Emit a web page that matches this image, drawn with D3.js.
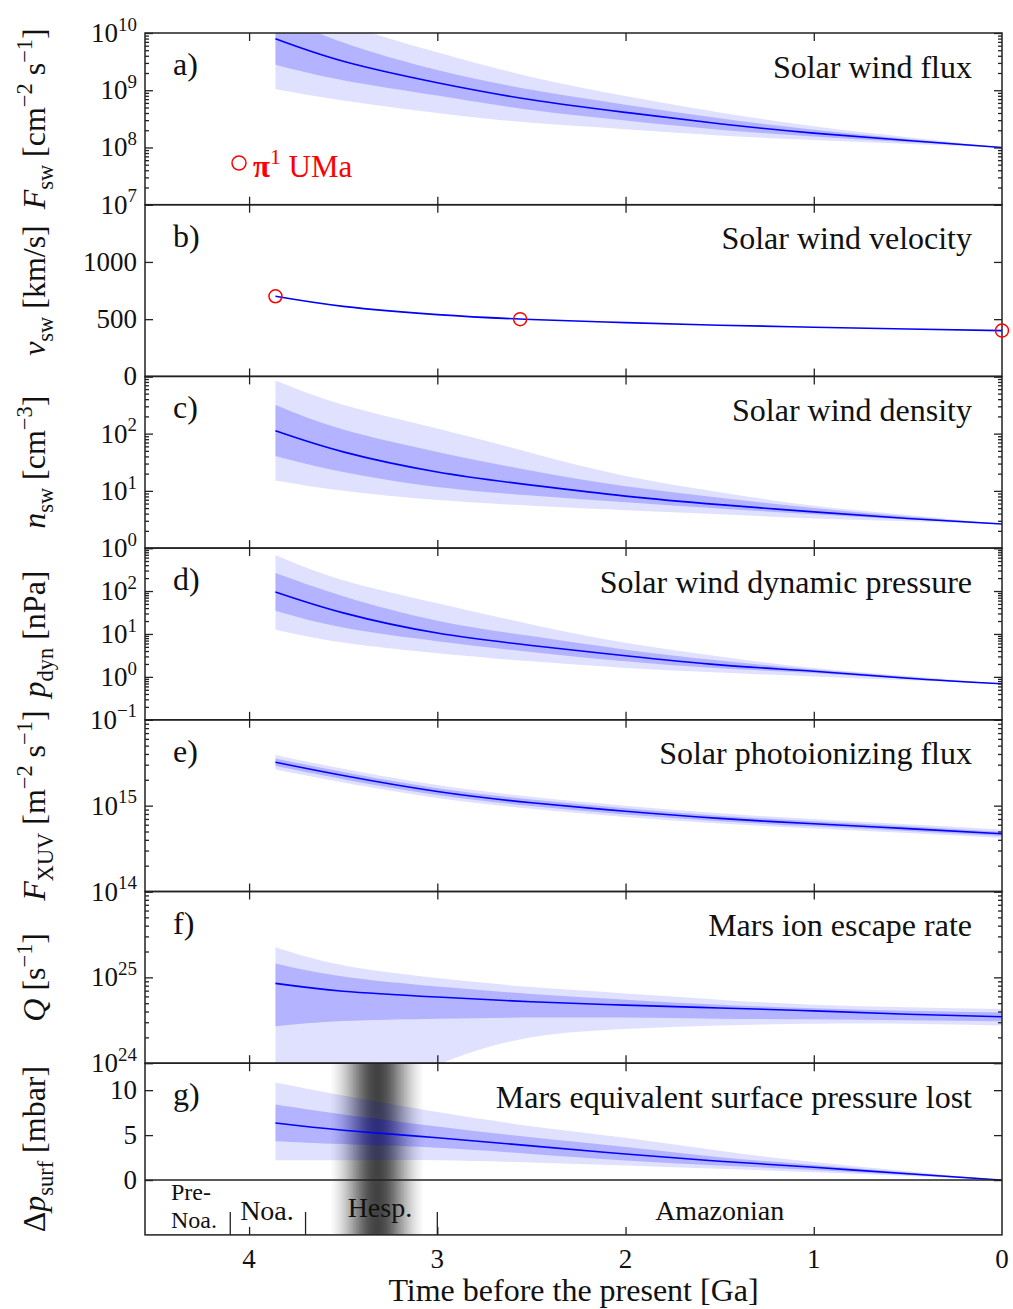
<!DOCTYPE html>
<html><head><meta charset="utf-8">
<script src="https://cdn.jsdelivr.net/npm/d3@7"></script>
<style>
body{margin:0;background:#fff}
svg{display:block}
text{font-family:'Liberation Serif','DejaVu Serif',serif;fill:#111;white-space:pre}
</style>
</head><body>
<svg id="chart" width="1013" height="1309" font-family="'Liberation Serif','DejaVu Serif',serif"></svg>
<script>
// ---------------- DATA ----------------
const T = [3.86, 3.5, 3.0, 2.5, 2.0, 1.5, 1.0, 0.5, 0.0];   // Ga before present

// a) solar wind flux [cm^-2 s^-1]
const fluxMid   = [7.9e9, 3.2e9, 1.35e9, 6.8e8, 4.1e8, 2.6e8, 1.78e8, 1.32e8, 1.0e8];
const fluxInLo  = [2.8e9, 1.5e9, 8.1e8, 4.5e8, 2.95e8, 2.04e8, 1.55e8, 1.23e8, 1.0e8];
const fluxInHi  = [2.2e10, 6.8e9, 2.25e9, 1.02e9, 5.6e8, 3.24e8, 2.04e8, 1.41e8, 1.0e8];
const fluxOutLo = [1.05e9, 6.6e8, 4.0e8, 2.7e8, 2.09e8, 1.62e8, 1.35e8, 1.15e8, 1.0e8];
const fluxOutHi = [6.0e10, 1.5e10, 4.6e9, 1.7e9, 7.9e8, 4.1e8, 2.34e8, 1.51e8, 1.0e8];

// b) solar wind velocity [km/s]
const velMid = [700, 612, 540, 497, 470, 447, 430, 414, 400];
const velSampleT = [3.86, 2.56, 0.0];
const velSample  = [700, 500, 400];

// c) solar wind density [cm^-3]
const densMid   = [112, 48, 21.4, 12.6, 8.1, 5.75, 4.3, 3.3, 2.63];
const densInLo  = [40.7, 21.4, 11.7, 8.3, 6.3, 4.9, 3.9, 3.16, 2.63];
const densInHi  = [316, 118, 48, 22.4, 12.0, 7.6, 5.0, 3.55, 2.63];
const densOutLo = [15.1, 10.0, 6.9, 5.5, 4.6, 3.9, 3.3, 2.95, 2.63];
const densOutHi = [850, 320, 123, 46, 18.2, 9.5, 5.5, 3.8, 2.63];

// d) solar wind dynamic pressure [nPa]
const presMid   = [95, 31, 10.5, 5.4, 3.1, 1.9, 1.35, 0.93, 0.69];
const presInLo  = [34.7, 14.1, 6.8, 3.8, 2.3, 1.58, 1.23, 0.89, 0.69];
const presInHi  = [263, 76, 20.4, 8.9, 4.3, 2.4, 1.48, 1.0, 0.69];
const presOutLo = [12.6, 6.3, 3.55, 2.3, 1.62, 1.26, 1.02, 0.83, 0.69];
const presOutHi = [690, 178, 52, 16.6, 6.2, 3.0, 1.62, 1.05, 0.69];

// e) solar photoionizing flux [m^-2 s^-1]
const xuvMid   = [3.2e15, 2.24e15, 1.46e15, 1.08e15, 8.6e14, 7.1e14, 6.15e14, 5.4e14, 4.7e14];
const xuvInLo  = [2.89e15, 2.03e15, 1.33e15, 9.9e14, 7.9e14, 6.6e14, 5.74e14, 5.08e14, 4.44e14];
const xuvInHi  = [3.55e15, 2.47e15, 1.60e15, 1.18e15, 9.3e14, 7.64e14, 6.59e14, 5.75e14, 4.98e14];
const xuvOutLo = [2.63e15, 1.86e15, 1.23e15, 9.2e14, 7.4e14, 6.18e14, 5.42e14, 4.81e14, 4.19e14];
const xuvOutHi = [3.89e15, 2.69e15, 1.74e15, 1.27e15, 1.0e15, 8.15e14, 6.98e14, 6.06e14, 5.27e14];

// f) Mars ion escape rate [s^-1]
const qMid   = [8.5e24, 6.9e24, 5.9e24, 5.2e24, 4.75e24, 4.4e24, 4.07e24, 3.72e24, 3.47e24];
const qInLo  = [2.7e24, 3.1e24, 3.3e24, 3.4e24, 3.4e24, 3.3e24, 3.24e24, 3.16e24, 3.09e24];
const qInHi  = [1.45e25, 1.02e25, 7.8e24, 6.4e24, 5.5e24, 4.8e24, 4.37e24, 4.07e24, 3.89e24];
const qOutLo = [6.3e22, 2.5e23, 9.5e23, 2.0e24, 2.5e24, 2.75e24, 2.88e24, 2.88e24, 2.75e24];
const qOutHi = [2.24e25, 1.38e25, 9.8e24, 7.7e24, 6.5e24, 5.5e24, 4.8e24, 4.47e24, 4.27e24];

// g) Mars equivalent surface pressure lost [mbar]
const dpMid   = [6.35, 5.55, 4.70, 3.80, 2.90, 2.10, 1.42, 0.70, 0];
const dpInLo  = [4.33, 4.00, 3.59, 2.90, 2.18, 1.62, 1.13, 0.57, 0];
const dpInHi  = [8.40, 7.30, 5.97, 4.75, 3.67, 2.55, 1.68, 0.83, 0];
const dpOutLo = [2.20, 2.20, 2.20, 1.95, 1.62, 1.25, 0.88, 0.45, 0];
const dpOutHi = [10.85, 9.40, 7.57, 6.00, 4.70, 3.25, 2.00, 0.98, 0];

// tick labels
const fluxTickExp = [7, 8, 9, 10];
const velTicks    = [0, 500, 1000];
const densTickExp = [0, 1, 2];
const presTickExp = [-1, 0, 1, 2];
const xuvTickExp  = [14, 15];
const qTickExp    = [24, 25];
const dpTicks     = [0, 5, 10];
const timeTicks   = [4, 3, 2, 1, 0];

// Mars epochs
const eraBounds = [4.1, 3.7, 3.0];
const eraNames  = ['Pre-Noa.', 'Noa.', 'Hesp.', 'Amazonian'];
const hespBand  = [3.57, 3.07];

// ---------------- DRAWING ----------------
const svg = d3.select('#chart');
const defs = svg.append('defs');
const L = 145, R = 1002, TOP = 33, PH = 171.7;
const INK = '#222';
const FONT = "'Liberation Serif','DejaVu Serif',serif";
const x = d3.scaleLinear().domain([4.553, 0]).range([L, R]);
const CURVE = d3.curveNatural;

function rich(sel, parts, size) {
  let cur = 0;
  sel.attr('font-family', FONT);
  parts.forEach(([str, o = {}]) => {
    const target = o.sub ? 0.26 * size : o.sup ? -0.42 * size : 0;
    const ts = sel.append('tspan').text(str).attr('dy', target - cur)
      .style('font-size', ((o.sub || o.sup) ? 0.7 * size : size) + 'px');
    if (o.i) ts.style('font-style', 'italic');
    if (o.b) ts.style('font-weight', 'bold');
    cur = target;
  });
}
const expStr = k => k < 0 ? '\u2212' + (-k) : String(k);

const panels = [
  {letter:'a)', title:'Solar wind flux', type:'log', domain:[1e7, 1e10],
   labels: fluxTickExp.map(k => ({v: Math.pow(10, k), parts:[['10'], [expStr(k), {sup:1}]]})),
   ylabel:[['F',{i:1}],['sw',{sub:1}],[' [cm'],['\u22122',{sup:1}],[' s'],['\u22121',{sup:1}],[']']],
   mid:fluxMid, inLo:fluxInLo, inHi:fluxInHi, outLo:fluxOutLo, outHi:fluxOutHi},
  {letter:'b)', title:'Solar wind velocity', type:'lin', domain:[0, 1500], major:[0, 500, 1000, 1500],
   labels: velTicks.map(v => ({v, parts:[[String(v)]]})),
   ylabel:[['v',{i:1}],['sw',{sub:1}],[' [km/s]']],
   mid:velMid},
  {letter:'c)', title:'Solar wind density', type:'log', domain:[1, 1e3],
   labels: densTickExp.map(k => ({v: Math.pow(10, k), parts:[['10'], [expStr(k), {sup:1}]]})),
   ylabel:[['n',{i:1}],['sw',{sub:1}],[' [cm'],['\u22123',{sup:1}],[']']],
   mid:densMid, inLo:densInLo, inHi:densInHi, outLo:densOutLo, outHi:densOutHi},
  {letter:'d)', title:'Solar wind dynamic pressure', type:'log', domain:[0.1, 1e3],
   labels: presTickExp.map(k => ({v: Math.pow(10, k), parts:[['10'], [expStr(k), {sup:1}]]})),
   ylabel:[['p',{i:1}],['dyn',{sub:1}],[' [nPa]']],
   mid:presMid, inLo:presInLo, inHi:presInHi, outLo:presOutLo, outHi:presOutHi},
  {letter:'e)', title:'Solar photoionizing flux', type:'log', domain:[1e14, 1e16],
   labels: xuvTickExp.map(k => ({v: Math.pow(10, k), parts:[['10'], [expStr(k), {sup:1}]]})),
   ylabel:[['F',{i:1}],['XUV',{sub:1}],[' [m'],['\u22122',{sup:1}],[' s'],['\u22121',{sup:1}],[']']],
   mid:xuvMid, inLo:xuvInLo, inHi:xuvInHi, outLo:xuvOutLo, outHi:xuvOutHi},
  {letter:'f)', title:'Mars ion escape rate', type:'log', domain:[1e24, 1e26],
   labels: qTickExp.map(k => ({v: Math.pow(10, k), parts:[['10'], [expStr(k), {sup:1}]]})),
   ylabel:[['Q',{i:1}],[' [s'],['\u22121',{sup:1}],[']']],
   mid:qMid, inLo:qInLo, inHi:qInHi, outLo:qOutLo, outHi:qOutHi},
  {letter:'g)', title:'Mars equivalent surface pressure lost', type:'lin', domain:[-6.1, 13], major:[0, 5, 10],
   labels: dpTicks.map(v => ({v, parts:[[String(v)]]})),
   ylabel:[['\u0394'],['p',{i:1}],['surf',{sub:1}],[' [mbar]']],
   mid:dpMid, inLo:dpInLo, inHi:dpInHi, outLo:dpOutLo, outHi:dpOutHi}
];

// gray gradient for the Hesperian band (fades fully to white at the edges)
const grad = defs.append('linearGradient').attr('id', 'hespGrad')
  .attr('x1', 0).attr('x2', 1).attr('y1', 0).attr('y2', 0);
const SIG = 22, HALF = 46.5;
const e0 = Math.exp(-0.5 * (HALF / SIG) ** 2);
d3.range(0, 1.0001, 0.04).forEach(o => {
  const d = (o - 0.5) * 2 * HALF;
  const v = Math.max(0, (Math.exp(-0.5 * (d / SIG) ** 2) - e0) / (1 - e0));
  grad.append('stop').attr('offset', o).attr('stop-color', '#000').attr('stop-opacity', 0.74 * v);
});

function yTicks(g, y, vals, len) {
  [[d3.axisLeft, L], [d3.axisRight, R]].forEach(([ax, px]) => {
    g.append('g').attr('transform', `translate(${px},0)`).attr('color', INK)
      .call(ax(y).tickValues(vals).tickSizeInner(-len).tickSizeOuter(0).tickFormat(''))
      .call(s => { s.select('.domain').remove(); s.selectAll('line').attr('stroke-width', 1.3); });
  });
}

function txt(g, str, size) {
  return g.append('text').attr('font-family', FONT).style('font-size', size + 'px').text(str);
}

panels.forEach((p, i) => {
  const top = TOP + i * PH, bot = top + PH;
  const y = (p.type === 'log' ? d3.scaleLog() : d3.scaleLinear()).domain(p.domain).range([bot, top]);
  const g = svg.append('g');
  const cid = 'clip' + i;
  defs.append('clipPath').attr('id', cid).append('rect')
    .attr('x', L).attr('y', top).attr('width', R - L).attr('height', PH);

  if (i === 6) {
    g.append('rect').attr('x', x(hespBand[0])).attr('y', top)
      .attr('width', x(hespBand[1]) - x(hespBand[0])).attr('height', PH)
      .attr('fill', 'url(#hespGrad)');
  }

  const plot = g.append('g').attr('clip-path', `url(#${cid})`);
  const rows = T.map((t, j) => ({t, j}));
  if (p.outLo) {
    const area = (lo, hi) => d3.area().x(d => x(d.t)).y0(d => y(lo[d.j])).y1(d => y(hi[d.j]))
      .curve(CURVE)(rows);
    plot.append('path').attr('d', area(p.outLo, p.outHi)).attr('fill', '#0000ff').attr('fill-opacity', 0.12);
    plot.append('path').attr('d', area(p.inLo, p.inHi)).attr('fill', '#0000ff').attr('fill-opacity', 0.2);
  }
  plot.append('path')
    .attr('d', d3.line().x(d => x(d.t)).y(d => y(p.mid[d.j])).curve(CURVE)(rows))
    .attr('fill', 'none').attr('stroke', '#0000ff').attr('stroke-width', 1.6);

  // frame
  g.append('rect').attr('x', L).attr('y', top).attr('width', R - L).attr('height', PH)
    .attr('fill', 'none').attr('stroke', INK).attr('stroke-width', 1.5);

  // y ticks
  if (p.type === 'log') {
    const k0 = Math.round(Math.log10(p.domain[0])), k1 = Math.round(Math.log10(p.domain[1]));
    const major = d3.range(k0, k1 + 1).map(k => Math.pow(10, k));
    const minor = [];
    d3.range(k0, k1).forEach(k => d3.range(2, 10).forEach(m => minor.push(m * Math.pow(10, k))));
    yTicks(g, y, major, 8);
    yTicks(g, y, minor, 4);
  } else {
    yTicks(g, y, p.major, 8);
  }

  // x ticks (inward, top and bottom)
  g.append('g').attr('transform', `translate(0,${top})`).attr('color', INK)
    .call(d3.axisTop(x).tickValues([4, 3, 2, 1]).tickSizeInner(-8).tickSizeOuter(0).tickFormat(''))
    .call(s => { s.select('.domain').remove(); s.selectAll('line').attr('stroke-width', 1.3); });
  g.append('g').attr('transform', `translate(0,${bot})`).attr('color', INK)
    .call(d3.axisBottom(x).tickValues([4, 3, 2, 1]).tickSizeInner(-8).tickSizeOuter(0).tickFormat(''))
    .call(s => { s.select('.domain').remove(); s.selectAll('line').attr('stroke-width', 1.3); });

  // tick labels
  p.labels.forEach(lb => {
    const t = g.append('text').attr('x', 137).attr('y', y(lb.v) + 9).attr('text-anchor', 'end');
    rich(t, lb.parts, 27);
  });

  // titles
  txt(g, p.title, 32).attr('x', 972).attr('y', top + 44.5).attr('text-anchor', 'end');
  txt(g, p.letter, 32).attr('x', 173).attr('y', top + 42);

  // y label
  const yl = g.append('text').attr('transform', `translate(45,${(top + bot) / 2}) rotate(-90)`)
    .attr('text-anchor', 'middle');
  rich(yl, p.ylabel, 32);

  // panel-specific extras
  if (i === 0) {
    g.append('circle').attr('cx', 239).attr('cy', 163).attr('r', 7)
      .attr('fill', 'none').attr('stroke', '#ff0000').attr('stroke-width', 1.5);
    const lt = g.append('text').attr('x', 253).attr('y', 177).style('fill', '#ff0000');
    rich(lt, [['\u03c0', {b:1}], ['1', {sup:1}], [' UMa']], 31);
    lt.selectAll('tspan').style('fill', '#ff0000');
  }
  if (i === 1) {
    g.selectAll('circle.sample').data(velSampleT).join('circle').attr('class', 'sample')
      .attr('cx', d => x(d)).attr('cy', (d, j) => y(velSample[j])).attr('r', 6.5)
      .attr('fill', 'none').attr('stroke', '#ff0000').attr('stroke-width', 1.5);
  }
  if (i === 6) {
    // zero line separating the epoch strip
    g.append('line').attr('x1', L).attr('x2', R).attr('y1', y(0)).attr('y2', y(0))
      .attr('stroke', INK).attr('stroke-width', 1.5);
    // epoch boundaries
    g.selectAll('line.era').data(eraBounds).join('line').attr('class', 'era')
      .attr('x1', d => x(d)).attr('x2', d => x(d)).attr('y1', bot - 23).attr('y2', bot)
      .attr('stroke', INK).attr('stroke-width', 1.3);
    // epoch names
    const pre = g.append('text').attr('font-family', FONT).attr('x', 171).attr('y', bot - 35).style('font-size', '24px');
    pre.append('tspan').text(eraNames[0].slice(0, 4));
    pre.append('tspan').attr('x', 171).attr('dy', 28).text(eraNames[0].slice(4));
    txt(g, eraNames[1], 28).attr('x', x(3.905)).attr('y', bot - 15).attr('text-anchor', 'middle');
    txt(g, eraNames[2], 28).attr('x', x(3.305)).attr('y', bot - 18).attr('text-anchor', 'middle');
    txt(g, eraNames[3], 28).attr('x', x(1.5)).attr('y', bot - 15).attr('text-anchor', 'middle');
    // bottom labels
    timeTicks.forEach(t => {
      txt(g, String(t), 27).attr('x', x(t)).attr('y', bot + 33).attr('text-anchor', 'middle');
    });
    txt(g, 'Time before the present [Ga]', 32).attr('x', (L + R) / 2).attr('y', bot + 66)
      .attr('text-anchor', 'middle');
  }
});
</script>
</body></html>
